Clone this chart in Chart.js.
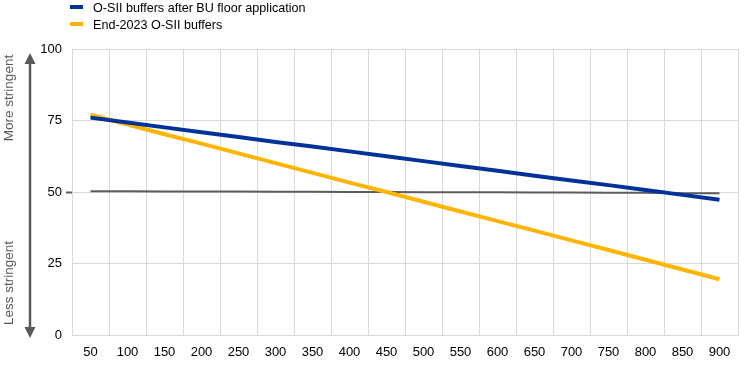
<!DOCTYPE html>
<html>
<head>
<meta charset="utf-8">
<script src="https://cdn.jsdelivr.net/npm/chart.js@4/dist/chart.umd.min.js"></script>
<style>
  body { margin: 0; background: #fff; }
  #wrap { position: relative; width: 744px; height: 365px; }
  #legend { position: absolute; left: 70px; top: 0px; font: 12.6px "Liberation Sans", Arial, sans-serif; color: #000; }
  .item { height: 17px; line-height: 17px; white-space: nowrap; }
  .sw { display: inline-block; width: 13px; height: 4px; margin-right: 10px; vertical-align: middle; position: relative; top: -2px; }
</style>
</head>
<body>
<div id="wrap">
  <canvas id="myChart" width="744" height="365"></canvas>
  <div id="legend"></div>
</div>
<script>
const categories = ['50', '100', '150', '200', '250', '300', '350', '400', '450', '500',
  '550', '600', '650', '700', '750', '800', '850', '900'];
const afterFloor = [76, 74.3, 72.6, 70.9, 69.2, 67.5, 65.9, 64.2, 62.5, 60.8,
  59.1, 57.4, 55.7, 54.0, 52.4, 50.7, 49.0, 47.3];
const end2023 = [77, 73.6, 70.2, 66.9, 63.5, 60.1, 56.7, 53.3, 50, 46.6,
  43.2, 39.8, 36.5, 33.1, 29.7, 26.3, 22.9, 19.5];
const midLine = [50.3, 50.3, 50.2, 50.2, 50.2, 50.1, 50.1, 50.0, 50.0, 49.9,
  49.9, 49.9, 49.8, 49.8, 49.7, 49.7, 49.6, 49.6];
const yTicks = [0, 25, 50, 75, 100];

const seriesNames = ['O-SII buffers after BU floor application', 'End-2023 O-SII buffers'];
const seriesColors = ['#003299', '#ffb400'];

document.getElementById('legend').innerHTML = seriesNames.map((n, i) =>
  `<div class="item"><span class="sw" style="background:${seriesColors[i]}"></span>${n}</div>`
).join('');

const FONT = '"Liberation Sans", Arial, sans-serif';

// side arrow with "More / Less stringent"
const sideArrow = {
  id: 'sideArrow',
  afterDraw(chart) {
    const ctx = chart.ctx;
    const x = 30, top = 53, bottom = 338;
    ctx.save();
    ctx.strokeStyle = '#595959';
    ctx.fillStyle = '#595959';
    ctx.lineWidth = 2.5;
    ctx.beginPath();
    ctx.moveTo(x, top + 8);
    ctx.lineTo(x, bottom - 8);
    ctx.stroke();
    ctx.beginPath();
    ctx.moveTo(x, top);
    ctx.lineTo(x - 5.5, top + 11);
    ctx.lineTo(x + 5.5, top + 11);
    ctx.closePath();
    ctx.fill();
    ctx.beginPath();
    ctx.moveTo(x, bottom);
    ctx.lineTo(x - 5.5, bottom - 11);
    ctx.lineTo(x + 5.5, bottom - 11);
    ctx.closePath();
    ctx.fill();
    ctx.font = '13.5px ' + FONT;
    ctx.textAlign = 'center';
    ctx.textBaseline = 'middle';
    ctx.translate(9, 98);
    ctx.rotate(-Math.PI / 2);
    ctx.fillText('More stringent', 0, 0);
    ctx.rotate(Math.PI / 2);
    ctx.translate(0, 185);
    ctx.rotate(-Math.PI / 2);
    ctx.fillText('Less stringent', 0, 0);
    ctx.restore();
  }
};

new Chart(document.getElementById('myChart'), {
  type: 'line',
  data: {
    labels: categories,
    datasets: [
      {
        label: seriesNames[0],
        data: afterFloor,
        borderColor: seriesColors[0],
        borderWidth: 4,
        pointRadius: 0,
        order: 0
      },
      {
        label: seriesNames[1],
        data: end2023,
        borderColor: seriesColors[1],
        borderWidth: 4,
        pointRadius: 0,
        order: 1
      },
      {
        label: 'mid',
        data: midLine,
        borderColor: '#5c5c5c',
        borderWidth: 2,
        pointRadius: 0,
        order: 2
      }
    ]
  },
  options: {
    responsive: false,
    animation: false,
    layout: { padding: { top: 49, right: 6, left: 0, bottom: 0 } },
    plugins: {
      legend: { display: false },
      tooltip: { enabled: false }
    },
    scales: {
      x: {
        offset: true,
        afterFit: (scale) => { scale.height = 30; },
        grid: { offset: true, color: '#d9d9d9', drawTicks: false },
        border: { color: '#d9d9d9' },
        ticks: { color: '#000', font: { family: FONT, size: 13 }, padding: 10, maxRotation: 0, autoSkip: false }
      },
      y: {
        min: 0,
        max: 100,
        afterFit: (scale) => { scale.width = 72; },
        afterBuildTicks: (scale) => { scale.ticks = yTicks.map(v => ({ value: v })); },
        grid: {
          color: '#d9d9d9',
          tickLength: 6,
          tickColor: (c) => c.tick && c.tick.value === 50 ? '#5c5c5c' : 'rgba(0,0,0,0)',
          tickWidth: 2
        },
        border: { color: '#d9d9d9' },
        ticks: { color: '#000', font: { family: FONT, size: 13 }, padding: 4 }
      }
    }
  },
  plugins: [sideArrow]
});
</script>
</body>
</html>
